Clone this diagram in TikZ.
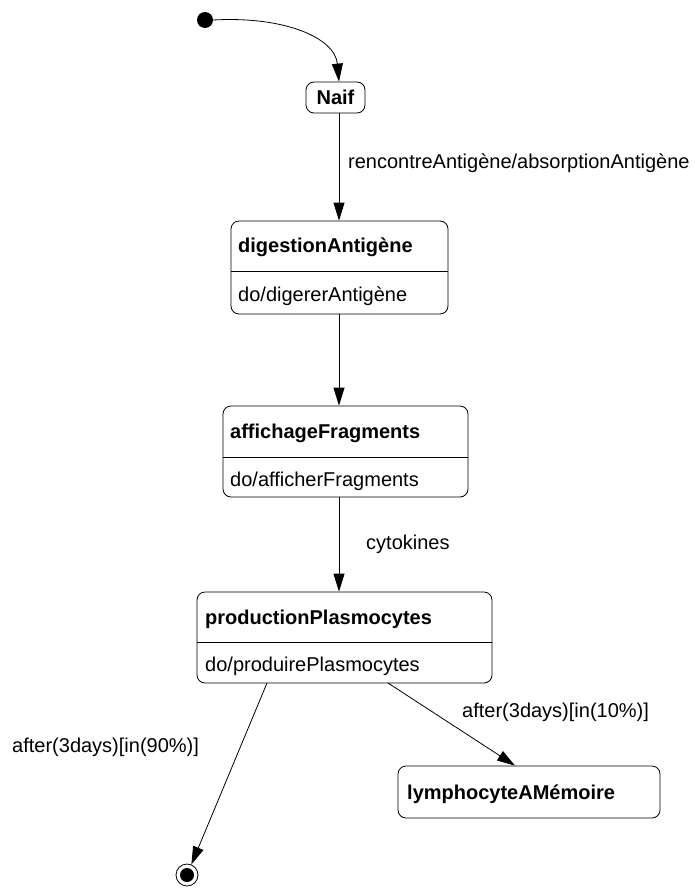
\documentclass[tikz,border=0pt]{standalone}
\usepackage{fontspec}
\setmainfont{Liberation Sans}
\usetikzlibrary{arrows.meta}
\begin{document}
\begin{tikzpicture}[x=1pt,y=-1pt,
  state/.style={draw,rounded corners=8pt,line width=0.8pt,inner sep=0pt},
  title/.style={anchor=west,font=\fontsize{20}{23}\selectfont\bfseries,inner sep=0pt},
  body/.style={anchor=west,font=\fontsize{20}{23}\selectfont,inner sep=0pt},
  lbl/.style={anchor=west,font=\fontsize{20}{23}\selectfont,inner sep=0pt},
  trans/.style={line width=0.8pt,-{Triangle[length=18pt,width=11pt]}}]
\useasboundingbox (0,0) rectangle (695,888);
% initial
\node[circle,fill=black,minimum size=16pt,inner sep=0pt] (init) at (205,20) {};
% Naif
\node[state,minimum width=59pt,minimum height=31pt] (naif) at (335.5,97.5) {};
\node[font=\fontsize{20}{23}\selectfont\bfseries,inner sep=0pt] (naift) at (335.5,97.5) {Naif};
\coordinate (vx) at (339,0);
% digestion
\node[state,minimum width=217pt,minimum height=93pt] (dig) at (339.5,267.5) {};
\draw[line width=0.8pt] (231,271) -- (448,271);
\node[title] (digt) at (238,247) {digestionAntigène};
\node[body] (digb) at (238,296) {do/digererAntigène};
% affichage
\node[state,minimum width=245pt,minimum height=91pt] (aff) at (345.5,451.5) {};
\draw[line width=0.8pt] (223,457) -- (468,457);
\node[title] (afft) at (230,433) {affichageFragments};
\node[body] (affb) at (230,481) {do/afficherFragments};
% production
\node[state,minimum width=295pt,minimum height=91pt] (prod) at (344.5,637.5) {};
\draw[line width=0.8pt] (197,642) -- (492,642);
\node[title] (prodt) at (205,619) {productionPlasmocytes};
\node[body] (prodb) at (205,666) {do/produirePlasmocytes};
% lymphocyte
\node[state,minimum width=262pt,minimum height=52pt] (lym) at (529,792) {};
\node[title] (lymt) at (407,794) {lymphocyteAMémoire};
% final
\node[circle,draw,line width=0.8pt,minimum size=22pt,inner sep=0pt] (fin) at (187,875) {};
\node[circle,fill=black,minimum size=14pt,inner sep=0pt] (finin) at (187,875) {};
% transitions
\draw[trans] (init.east) .. controls (285,16) and (335,38) .. (naif.north -| vx);
\draw[trans] (naif.south -| vx) -- (dig.north -| vx);
\draw[trans] (dig.south -| vx) -- (aff.north -| vx);
\draw[trans] (aff.south -| vx) -- (prod.north -| vx);
\coordinate (p1) at (267,683);
\coordinate (p2) at (388,683);
\draw[trans] (p1) -- (fin);
\draw[trans] (p2) -- (lym.north -| 515,0);
% labels
\node[lbl] (l1) at (348,163) {rencontreAntigène/absorptionAntigène};
\node[lbl] (l2) at (366,544) {cytokines};
\node[lbl] (l3) at (12,747) {after(3days)[in(90\%)]};
\node[lbl] (l4) at (462,712) {after(3days)[in(10\%)]};
\end{tikzpicture}
\end{document}
